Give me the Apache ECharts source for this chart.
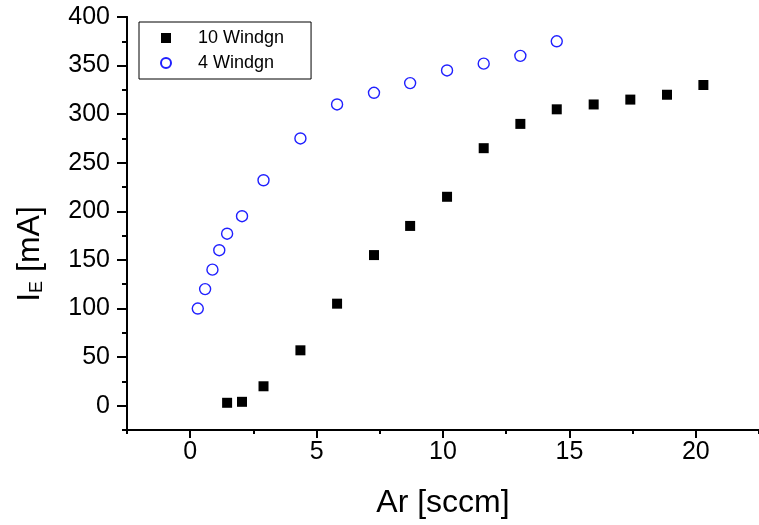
<!DOCTYPE html>
<html>
<head>
<meta charset="utf-8">
<script src="https://cdn.jsdelivr.net/npm/echarts@6/dist/echarts.min.js"></script>
<style>html,body{margin:0;padding:0;background:#fff}#c{width:759px;height:525px}</style>
</head>
<body>
<div id="c"></div>
<script>
// Data
const x10 = [1.46, 2.05, 2.9, 4.36, 5.81, 7.27, 8.7, 10.16, 11.61, 13.06, 14.5, 15.96, 17.41, 18.86, 20.3];
const y10 = [3, 4, 20, 57, 105, 155, 185, 215, 265, 290, 305, 310, 315, 320, 330];
const x4 = [0.3, 0.59, 0.88, 1.15, 1.46, 2.05, 2.9, 4.36, 5.81, 7.27, 8.7, 10.16, 11.61, 13.06, 14.5];
const y4 = [100, 120, 140, 160, 177, 195, 232, 275, 310, 322, 332, 345, 352, 360, 375];
const xMajor = [0, 5, 10, 15, 20];
const xMinor = [-2.5, 2.5, 7.5, 12.5, 17.5, 22.5];
const yMajor = [0, 50, 100, 150, 200, 250, 300, 350, 400];
const yMinor = [-25, 25, 75, 125, 175, 225, 275, 325, 375];
const names = ['10 Windgn', '4 Windgn'];

const font = 'Liberation Sans, Arial, sans-serif';
const chart = echarts.init(document.getElementById('c'));
const axisLine = {show: true, onZero: false, lineStyle: {color: '#000', width: 2}};
function xAx(ticks, len, labels) {
  return {
    type: 'value', min: -2.5, max: 22.5, position: 'bottom',
    axisLine: axisLine,
    axisTick: {show: true, customValues: ticks, length: len, lineStyle: {color: '#000', width: 2}},
    axisLabel: labels ? {show: true, customValues: ticks, fontSize: 25, color: '#000', fontFamily: font, margin: 10} : {show: false},
    splitLine: {show: false},
    name: labels ? 'Ar [sccm]' : '', nameLocation: 'middle', nameGap: 57,
    nameTextStyle: {fontSize: 32, color: '#000', fontFamily: font}
  };
}
function yAx(ticks, len, labels) {
  return {
    type: 'value', min: -25, max: 400, position: 'left',
    axisLine: axisLine,
    axisTick: {show: true, customValues: ticks, length: len, lineStyle: {color: '#000', width: 2}},
    axisLabel: labels ? {show: true, customValues: ticks, fontSize: 25, color: '#000', fontFamily: font, margin: 17} : {show: false},
    splitLine: {show: false}
  };
}
chart.setOption({
  animation: false,
  backgroundColor: '#fff',
  grid: {left: 127, top: 17, width: 634.5, height: 413, containLabel: false},
  xAxis: [xAx(xMajor, 8, true), xAx(xMinor, 4, false)],
  yAxis: [yAx(yMajor, 10, true), yAx(yMinor, 5, false)],
  legend: {
    orient: 'vertical', left: 139, top: 22,
    borderColor: '#000', borderWidth: 1, borderRadius: 0,
    padding: [7, 27, 7, 21],
    itemWidth: 10, itemHeight: 10, itemGap: 7,
    textStyle: {fontSize: 18, color: '#000', fontFamily: font, padding: [0, 0, 0, 22]},
    data: names
  },
  graphic: [{
    type: 'text', x: 30, y: 254, rotation: Math.PI / 2,
    style: {
      text: '{a|I}{b|E}{a| [mA]}',
      align: 'center', verticalAlign: 'middle',
      rich: {
        a: {fontSize: 32, fontFamily: font, fill: '#000'},
        b: {fontSize: 18, fontFamily: font, fill: '#000', verticalAlign: 'bottom', padding: [14, 0, 0, 0]}
      }
    }
  }],
  series: [
    {
      name: names[0], type: 'scatter', symbol: 'rect', symbolSize: 10,
      itemStyle: {color: '#000', opacity: 1},
      data: x10.map((x, i) => [x, y10[i]])
    },
    {
      name: names[1], type: 'scatter', symbol: 'circle', symbolSize: 11,
      itemStyle: {color: 'rgba(0,0,0,0)', borderColor: '#2020ff', borderWidth: 1.4, opacity: 1},
      data: x4.map((x, i) => [x, y4[i]])
    }
  ]
});
</script>
</body>
</html>
